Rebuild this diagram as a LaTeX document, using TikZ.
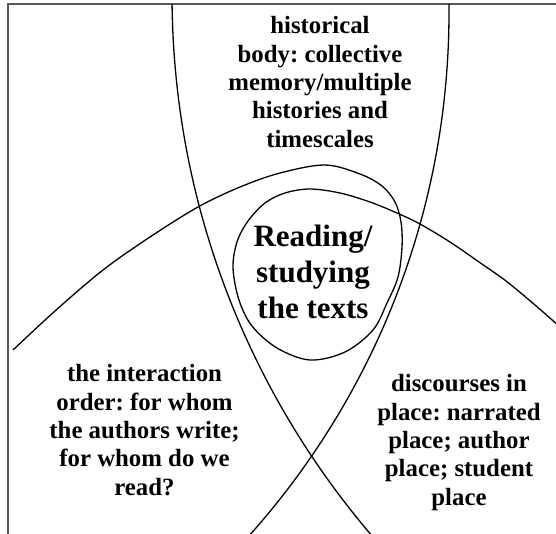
\documentclass[tikz,border=0pt]{standalone}
\usepackage{fontspec}
\setmainfont{Liberation Serif}
\frenchspacing
\begin{document}
\begin{tikzpicture}[x=1pt,y=-1pt,
  curve/.style={line width=1.3pt, black},
  framel/.style={line width=1.5pt, black!65},
  lbl/.style={font=\bfseries\fontsize{24.8}{28.3}\selectfont, align=center, inner sep=0pt, anchor=base},
  biglbl/.style={font=\bfseries\fontsize{31}{36}\selectfont, align=center, inner sep=0pt, anchor=base}]
\useasboundingbox (0,0) rectangle (556,533);
\draw[framel] (8,534) -- (8,4) -- (557,4);
\begin{scope}
  \clip (0,4) rectangle (556,533);
  % two crossing arcs of the historical body
  \draw[curve] (1006,-6) circle[radius=834];
  \draw[curve] (-337,12) circle[radius=786];
  % arch with the loop round the reading
  \draw[curve] plot[smooth, tension=0.55] coordinates {
    (13,350) (55,311) (103,270) (150,237) (198,207) (240,187) (280,173)
    (325,165) (360,174) (382,186) (395,202) (401,222) (402,247) (398,277)
    (387,303) (373,330) (345,352) (310,360) (277,348) (252,326) (239,300)
    (233,268) (237,242) (248,221) (265,203) (285,193) (310,189) (340,193)
    (370,202) (397,213) (420,224) (450,242) (479,262) (506,281) (535,305)
    (560,327)};
\end{scope}
\node[lbl] (hist) at (320,147) {historical\\body: collective\\memory/multiple\\histories and\\timescales};
\node[biglbl] (read) at (313,318) {Reading/\\studying\\the texts};
\node[lbl] (inter) at (144.5,495) {the interaction\\order: for whom\\the authors write;\\for whom do we\\read?};
\node[lbl] (disc) at (459,505) {discourses in\\place: narrated\\place; author\\place; student\\place};
\end{tikzpicture}
\end{document}
